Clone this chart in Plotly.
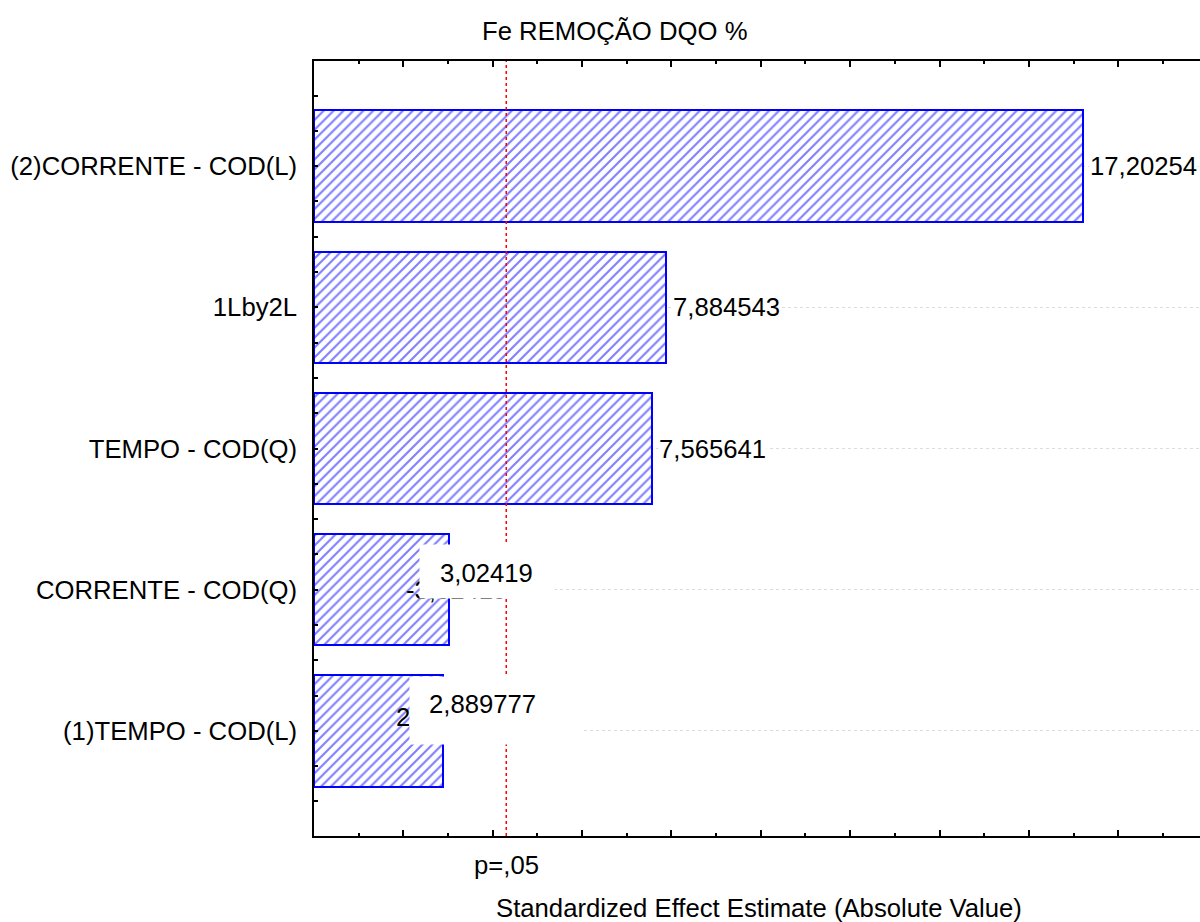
import numpy as np
import plotly.graph_objects as go

# Pareto chart of standardized effects (bottom to top)
factors = ["(1)TEMPO - COD(L)", "CORRENTE - COD(Q)", "TEMPO - COD(Q)",
           "1Lby2L", "(2)CORRENTE - COD(L)"]
effects = [2.889777, -3.02419, 7.565641, 7.884543, 17.20254]
p_crit = 4.302653          # t critical value, p = 0.05
p_label = "p=,05"

chart_title = "Fe REMOÇÃO DQO %"
x_title = "Standardized Effect Estimate (Absolute Value)"

W, H = 1200, 922
ML, MR, MT, MB = 314, 0, 61, 86
PW, PH = W - ML - MR, H - MT - MB
X_MAX = 19.83
Y_RANGE = [-0.745, 4.745]

FONT = "Liberation Sans, Arial, sans-serif"
FS = 25.7
BLUE = "#0000ff"


def fmt(v):
    return f"{v:.7g}".replace(".", ",")


def paper_x(px):
    return (px - ML) / PW


def paper_y(py):
    return (H - MB - py) / PH


abs_eff = [abs(v) for v in effects]
ypos = list(range(len(factors)))

fig = go.Figure()
fig.add_trace(go.Bar(
    x=abs_eff, y=ypos, orientation="h", width=0.79,
    marker=dict(
        color="white",
        line=dict(color=BLUE, width=2),
        pattern=dict(shape="/", fgcolor=BLUE, bgcolor="white",
                     size=7, solidity=0.3),
    ),
    hoverinfo="skip", showlegend=False,
))

# p = 0.05 reference line
fig.add_shape(type="line", xref="x", yref="paper", x0=p_crit, x1=p_crit,
              y0=0, y1=1, layer="above",
              line=dict(color="red", width=1.5, dash="dot"))

ann = []
# value labels for the large effects
for i in range(2, len(effects)):
    ann.append(dict(x=abs_eff[i], y=ypos[i], xref="x", yref="y",
                    text=fmt(effects[i]), showarrow=False,
                    xanchor="left", yanchor="middle", xshift=6,
                    bgcolor="white", borderpad=0,
                    font=dict(family=FONT, size=FS, color="black")))

# overlapping labels on the two short bars: signed text underneath,
# boxed absolute value on top
under = {0: (-48, 14), 1: (-44, 0)}
boxes = {0: (-34, 171, 67, 20.5), 1: (-30, 134, 53, 18.5)}
front = {0: (-15, 27), 1: (-10, 17)}
for i in (0, 1):
    dx, dy = under[i]
    ann.append(dict(x=abs_eff[i], y=ypos[i], xref="x", yref="y",
                    text=fmt(effects[i]), showarrow=False,
                    xanchor="left", yanchor="middle", xshift=dx, yshift=dy,
                    borderpad=0,
                    font=dict(family=FONT, size=FS, color="black")))
for i in (0, 1):
    dx, bw, bh, dy = boxes[i]
    ann.append(dict(x=abs_eff[i], y=ypos[i], xref="x", yref="y",
                    text=" ", showarrow=False, width=bw, height=bh,
                    xanchor="left", yanchor="middle", xshift=dx, yshift=dy,
                    bgcolor="white", borderpad=0,
                    font=dict(family=FONT, size=FS, color="black")))
for i in (0, 1):
    dx, dy = front[i]
    ann.append(dict(x=abs_eff[i], y=ypos[i], xref="x", yref="y",
                    text=fmt(abs_eff[i]), showarrow=False,
                    xanchor="left", yanchor="middle", xshift=dx, yshift=dy,
                    borderpad=0,
                    font=dict(family=FONT, size=FS, color="black")))

ann.append(dict(x=paper_x(614), y=paper_y(31), xref="paper", yref="paper",
                text=chart_title, showarrow=False,
                xanchor="center", yanchor="middle",
                font=dict(family=FONT, size=FS, color="black")))
ann.append(dict(x=paper_x(759), y=paper_y(908), xref="paper", yref="paper",
                text=x_title, showarrow=False,
                xanchor="center", yanchor="middle",
                font=dict(family=FONT, size=FS, color="black")))
ann.append(dict(x=p_crit, y=paper_y(865), xref="x", yref="paper",
                text=p_label, showarrow=False,
                xanchor="center", yanchor="middle",
                font=dict(family=FONT, size=FS, color="black")))

y_minor = [v for v in np.arange(-0.5, 4.51, 0.25) if abs(v - round(v)) > 1e-9]

fig.update_layout(
    width=W, height=H,
    margin=dict(l=ML, r=MR, t=MT, b=MB, pad=0),
    paper_bgcolor="white", plot_bgcolor="white",
    font=dict(family=FONT, size=FS, color="black"),
    annotations=ann,
    bargap=0,
    xaxis=dict(
        range=[0, X_MAX], showgrid=False, zeroline=False,
        showline=True, linecolor="black", linewidth=1.5, mirror="ticks",
        tickmode="linear", tick0=0, dtick=2,
        ticks="inside", ticklen=6, tickwidth=1.5, tickcolor="black",
        showticklabels=False,
        minor=dict(tickmode="linear", tick0=0, dtick=1, ticks="inside",
                   ticklen=3, tickwidth=1.5, tickcolor="black",
                   showgrid=False),
    ),
    yaxis=dict(
        range=Y_RANGE, zeroline=False,
        showline=True, linecolor="black", linewidth=1.5, mirror=False,
        tickmode="array", tickvals=ypos, ticktext=factors,
        ticks="inside", ticklen=4, tickwidth=1.5, tickcolor="black",
        ticklabelstandoff=10,
        tickfont=dict(family=FONT, size=FS, color="black"),
        showgrid=True, gridcolor="#dcdcdc", gridwidth=1, griddash="dot",
        minor=dict(tickmode="array", tickvals=y_minor, ticks="inside",
                   ticklen=4, tickwidth=1.5, tickcolor="black",
                   showgrid=False),
    ),
)

fig.write_html("out.html")
